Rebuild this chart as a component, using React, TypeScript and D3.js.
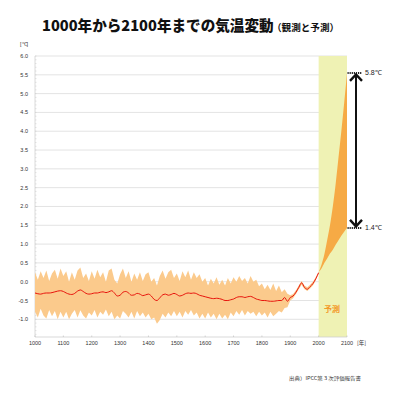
import React from 'react';
import * as d3 from 'd3';

// observed record, every 10 years from 1000 to 2000
const obsYears = d3.range(1000, 2001, 10);
const obsMean = [
  -0.30, -0.32, -0.33, -0.31, -0.30, -0.30, -0.29, -0.27, -0.25, -0.24,
  -0.26, -0.30, -0.33, -0.34, -0.31, -0.25, -0.22, -0.26, -0.31, -0.33,
  -0.32, -0.30, -0.30, -0.28, -0.27, -0.29, -0.27, -0.24, -0.30, -0.38,
  -0.36, -0.28, -0.26, -0.30, -0.36, -0.35, -0.31, -0.33, -0.37, -0.35,
  -0.33, -0.38, -0.47, -0.50, -0.43, -0.35, -0.33, -0.36, -0.34, -0.31,
  -0.34, -0.38, -0.36, -0.32, -0.30, -0.31, -0.30, -0.32, -0.36, -0.38,
  -0.40, -0.42, -0.44, -0.45, -0.44, -0.45, -0.47, -0.50, -0.50, -0.48,
  -0.46, -0.42, -0.40, -0.40, -0.42, -0.40, -0.39, -0.42, -0.46, -0.48,
  -0.50, -0.50, -0.51, -0.52, -0.52, -0.51, -0.50, -0.50, -0.42, -0.52,
  -0.42, -0.38, -0.28, -0.15, -0.03, -0.15, -0.20, -0.13, -0.05, 0.08,
  0.24,
];
const obsUpper = [
  0.25, 0.05, 0.28, 0.10, 0.30, 0.02, 0.22, 0.32, 0.08, 0.35,
  0.15, 0.28, 0.00, 0.25, 0.05, 0.30, 0.38, 0.10, 0.22, 0.02,
  0.28, 0.08, 0.32, 0.12, 0.25, 0.00, 0.30, 0.35, 0.05, -0.05,
  0.20, 0.35, 0.10, 0.28, 0.00, 0.22, 0.05, 0.25, 0.02, 0.20,
  0.25, 0.00, 0.10, -0.10, 0.15, 0.30, 0.08, 0.25, 0.32, 0.10,
  0.22, 0.02, 0.28, 0.12, 0.30, 0.05, 0.25, 0.10, 0.20, 0.00,
  0.10, -0.10, 0.08, -0.05, 0.12, -0.08, 0.05, -0.10, 0.10, -0.05,
  0.12, 0.00, 0.15, 0.02, 0.10, -0.05, 0.15, 0.00, 0.05, -0.12,
  -0.05, -0.20, -0.08, -0.22, -0.05, -0.25, -0.10, -0.28, -0.20, -0.32,
  -0.36, -0.33, -0.23, -0.10, 0.02, -0.10, -0.15, -0.08, 0.00, 0.12,
  0.26,
];
const obsLower = [
  -0.80, -0.95, -0.72, -0.90, -0.98, -0.75, -0.92, -0.78, -1.00, -0.80,
  -0.95, -0.80, -1.00, -0.85, -0.75, -0.95, -0.76, -0.90, -0.98, -0.82,
  -0.90, -0.75, -0.95, -0.80, -0.88, -0.74, -0.92, -0.80, -1.00, -0.90,
  -0.98, -0.78, -0.85, -0.95, -0.80, -0.98, -0.78, -0.92, -0.82, -0.95,
  -0.85, -1.00, -0.95, -1.12, -1.02, -0.85, -0.95, -0.82, -0.92, -0.78,
  -0.92, -0.80, -0.95, -0.78, -0.88, -0.75, -0.90, -0.82, -0.98, -0.85,
  -0.98, -0.82, -0.95, -0.85, -1.00, -0.85, -0.98, -0.88, -1.00, -0.82,
  -0.92, -0.78, -0.88, -0.75, -0.90, -0.78, -0.85, -0.80, -0.92, -0.80,
  -0.90, -0.82, -0.95, -0.80, -0.92, -0.85, -0.78, -0.82, -0.70, -0.68,
  -0.50, -0.44, -0.33, -0.20, -0.08, -0.20, -0.25, -0.18, -0.10, 0.04,
  0.22,
];

// projection fan 2000-2100
const projYears = d3.range(2000, 2101, 10);
const projUpper = [0.25, 0.45, 0.72, 1.10, 1.50, 2.00, 2.60, 3.30, 4.00, 4.75, 5.55];
const projLower = [0.25, 0.35, 0.50, 0.62, 0.75, 0.85, 0.98, 1.10, 1.22, 1.33, 1.43];

const yTicks = [-1.0, -0.5, 0.0, 0.5, 1.0, 1.5, 2.0, 2.5, 3.0, 3.5, 4.0, 4.5, 5.0, 5.5, 6.0];
const xTicks = [1000, 1100, 1200, 1300, 1400, 1500, 1600, 1700, 1800, 1900, 2000, 2100];
const rangeLabels = ['5.8℃', '1.4℃'];

const W = 400;
const H = 399;

export default function App() {
  const x = d3.scaleLinear().domain([1000, 2100]).range([35, 347]);
  const y = d3.scaleLinear().domain([-1.47, 6]).range([337, 56]);

  const obs = obsYears.map((yr, i) => ({ yr, m: obsMean[i], hi: obsUpper[i], lo: obsLower[i] }));
  const proj = projYears.map((yr, i) => ({ yr, hi: projUpper[i], lo: projLower[i] }));

  const band = d3.area<any>().x(d => x(d.yr)).y0(d => y(d.lo)).y1(d => y(d.hi));
  const meanLine = d3.line<any>().x(d => x(d.yr)).y(d => y(d.m)).curve(d3.curveMonotoneX);
  const fan = d3.area<any>().x(d => x(d.yr)).y0(d => y(d.lo)).y1(d => y(d.hi)).curve(d3.curveMonotoneX);

  const minor = d3.range(-1.4, 6.01, 0.1);
  const x2100 = x(2100);
  const topV = projUpper[projUpper.length - 1];
  const botV = projLower[projLower.length - 1];
  const ax = 356;
  const sans = '"Liberation Sans", Arial, sans-serif';
  const jp = '"Noto Sans CJK JP", sans-serif';

  return (
    <svg width={W} height={H} style={{ position: 'absolute', left: 0, top: 0, background: '#fff' }}>
      <text x={42} y={31} fontFamily={jp} fontWeight={900} fontSize={14.6} fill="#111">
        1000年から2100年までの気温変動
      </text>
      <text x={272} y={31} fontFamily={jp} fontWeight={700} fontSize={9.6} fill="#111">
        （観測と予測）
      </text>
      <text x={20} y={46} fontFamily={sans} fontSize={5.5} fill="#333">[℃]</text>

      {/* grid */}
      {yTicks.map(t => (
        <line key={t} x1={x(1000)} x2={x2100} y1={y(t)} y2={y(t)} stroke="#dcdcdc" strokeWidth={0.8} />
      ))}
      {yTicks.map(t => (
        <text key={'l' + t} x={28} y={y(t) + 2} textAnchor="end" fontFamily={sans} fontSize={5.5} fill="#333">
          {t.toFixed(1)}
        </text>
      ))}
      <line x1={x(1000)} x2={x(1000)} y1={y(6)} y2={y(-1.47)} stroke="#d0d0d0" strokeWidth={0.8} />
      {minor.map((t, i) => (
        <line key={'m' + i} x1={x(1000)} x2={x(1000) + 1.5} y1={y(t)} y2={y(t)} stroke="#d0d0d0" strokeWidth={0.6} />
      ))}

      {/* forecast zone */}
      <rect x={x(2000)} y={y(6)} width={x(2100) - x(2000)} height={y(-1.47) - y(6)} fill="#eff2b4" />

      <line x1={x(1000)} x2={x2100} y1={y(-1.47)} y2={y(-1.47)} stroke="#cfcfcf" strokeWidth={0.8} />
      {xTicks.map(t => (
        <g key={t}>
          <line x1={x(t)} x2={x(t)} y1={y(-1.47)} y2={y(-1.47) - 1.5} stroke="#bbb" strokeWidth={0.6} />
          <text x={x(t)} y={345} textAnchor="middle" fontFamily={sans} fontSize={5.5} fill="#333">{t}</text>
        </g>
      ))}
      <text x={357} y={345} fontFamily={jp} fontSize={5.5} fill="#333">[年]</text>

      {/* data */}
      <path d={band(obs) || ''} fill="#fbca8c" />
      <path d={fan(proj) || ''} fill="#f6aa45" />
      <path d={meanLine(obs) || ''} fill="none" stroke="#e8140c" strokeWidth={1} />

      <text x={332} y={312} textAnchor="middle" fontFamily={jp} fontWeight={700} fontSize={8} fill="#f39a2a">予測</text>

      {/* range arrow */}
      {[topV, botV].map((v, i) => (
        <g key={'r' + i}>
          <line x1={x2100 + 0.5} x2={x2100 + 15} y1={y(v)} y2={y(v)} stroke="#222" strokeWidth={2} strokeDasharray="1.2,0.9" />
          <text x={365} y={y(v) + 2.5} fontFamily={sans} fontSize={7} fill="#222">{rangeLabels[i]}</text>
        </g>
      ))}
      <line x1={ax} x2={ax} y1={y(topV) + 2} y2={y(botV) - 2} stroke="#111" strokeWidth={2} />
      <path d={`M${ax - 6},${y(topV) + 8} L${ax},${y(topV) + 1.5} L${ax + 6},${y(topV) + 8}`} fill="none" stroke="#111" strokeWidth={2.4} />
      <path d={`M${ax - 6},${y(botV) - 8} L${ax},${y(botV) - 1.5} L${ax + 6},${y(botV) - 8}`} fill="none" stroke="#111" strokeWidth={2.4} />

      <text x={289} y={380} fontFamily={jp} fontSize={5} textLength={72} lengthAdjust="spacingAndGlyphs" fill="#333">
        出典）IPCC第３次評価報告書
      </text>
    </svg>
  );
}
